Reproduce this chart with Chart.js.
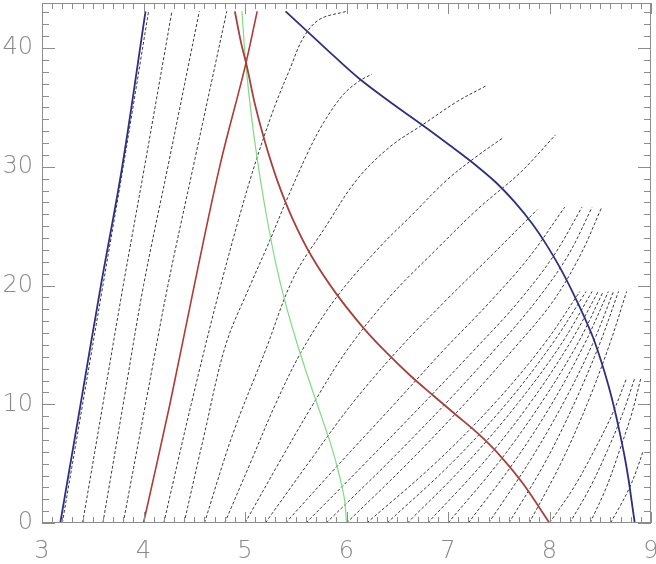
<!DOCTYPE html>
<html>
<head>
<meta charset="utf-8">
<script src="https://cdn.jsdelivr.net/npm/chart.js@4.4.1/dist/chart.umd.min.js"></script>
<style>
  html, body { margin: 0; padding: 0; background: #fff; }
  canvas { display: block; }
</style>
</head>
<body>
<canvas id="tracks" width="656" height="564"></canvas>
<script>
// axis ranges and tick labels
const xTicks = [3, 4, 5, 6, 7, 8, 9];
const yTicks = [0, 10, 20, 30, 40];
const yTop = 43.8;

// solid curves, [x, y]
const blueLeft = [[3.18, 0], [3.38, 10], [3.58, 20], [3.79, 30], [4.02, 43.1]];
const redLeft = [[4.0, 0], [4.26, 10], [4.5, 20], [4.75, 30], [5.0, 38.4], [5.12, 43.1]];
const redRight = [[4.9, 43.1], [4.96, 40.5], [5.02, 38.4], [5.1, 35.2], [5.2, 32.0], [5.32, 28.8],
  [5.47, 25.6], [5.66, 22.4], [5.9, 19.3], [6.17, 16.4], [6.4, 14.3], [6.63, 12.4], [6.86, 10.7],
  [7.08, 9.1], [7.3, 7.5], [7.51, 5.7], [7.74, 3.3], [8.0, 0]];
const greenLine = [[4.97, 43.1], [5.0, 39.5], [5.04, 36], [5.09, 32.5], [5.15, 29], [5.22, 25.5],
  [5.3, 22], [5.39, 18.8], [5.5, 15.5], [5.62, 12.3], [5.74, 9.3], [5.85, 6.5], [5.93, 4.0],
  [5.98, 2.0], [6.0, 0]];
const blueRight = [[5.4, 43.1], [5.64, 41.2], [5.88, 39.3], [6.13, 37.4], [6.44, 35.4], [6.75, 33.5],
  [7.02, 31.8], [7.25, 30.3], [7.47, 28.7], [7.66, 27.0], [7.83, 25.2], [7.98, 23.3], [8.11, 21.4],
  [8.23, 19.4], [8.34, 17.4], [8.43, 15.6], [8.51, 13.6], [8.58, 11.6], [8.64, 9.6], [8.69, 7.7],
  [8.74, 5.6], [8.78, 3.6], [8.81, 1.8], [8.84, 0]];

// dashed tracks, one per starting value on the x axis
const dashedTracks = [
  [[3.2, 0], [3.4, 10], [3.6, 20], [3.8, 30], [4.05, 43.1]],
  [[3.4, 0], [3.6, 10], [3.8, 20], [4.01, 30], [4.28, 43.1]],
  [[3.6, 0], [3.8, 10], [4.0, 20], [4.24, 30], [4.55, 43.1]],
  [[3.8, 0], [4.02, 10], [4.24, 20], [4.49, 30], [4.82, 43.1]],
  [[4.2, 0], [4.47, 10], [4.76, 20], [5.05, 28.9], [5.28, 34.8], [5.45, 38.4], [5.57, 40.8], [5.73, 42.4], [6.0, 43.1]],
  [[4.4, 0], [4.6, 7.5], [4.81, 15], [5.05, 20], [5.23, 23.5], [5.41, 27.2], [5.63, 31.4], [5.78, 33.8], [5.96, 36], [6.12, 37.2], [6.25, 37.8]],
  [[4.6, 0], [4.88, 7.5], [5.2, 14.5], [5.48, 20.7], [5.79, 24.9], [6.1, 28.9], [6.43, 31.7], [6.76, 33.6], [7.09, 35.5], [7.37, 36.8]],
  [[4.8, 0], [5.05, 5], [5.3, 10], [5.56, 14.5], [5.9, 19], [6.3, 23], [6.65, 26], [6.99, 28.9], [7.27, 30.8], [7.55, 32.5]],
  [[5.0, 0], [5.33, 5], [5.67, 10], [6.0, 14.5], [6.42, 19], [6.88, 23], [7.3, 26.5], [7.71, 29.5], [8.06, 32.7]],
  [[5.2, 0], [5.62, 5], [6.05, 10], [6.5, 14.5], [6.95, 18.5], [7.4, 22.3], [7.88, 26.4]],
  [[5.4, 0], [5.93, 5], [6.47, 10], [6.95, 14.5], [7.4, 18.5], [7.8, 22.4], [8.15, 26.6]],
  [[5.6, 0], [6.18, 5], [6.75, 10], [7.25, 14.5], [7.68, 18.5], [8.04, 22.5], [8.32, 26.6]],
  [[5.8, 0], [6.4, 5], [6.97, 10], [7.45, 14.5], [7.85, 18.5], [8.18, 22.5], [8.42, 26.6]],
  [[6.0, 0], [6.6, 5], [7.16, 10], [7.63, 14.5], [8.02, 18.5], [8.3, 22.5], [8.51, 26.5]],
  [[6.2, 0], [6.87, 5], [7.45, 10], [7.94, 15], [8.3, 19.5]],
  [[6.4, 0], [7.03, 5], [7.57, 10], [8.02, 15], [8.36, 19.5]],
  [[6.6, 0], [7.18, 5], [7.68, 10], [8.11, 15], [8.42, 19.5]],
  [[6.8, 0], [7.34, 5], [7.8, 10], [8.19, 15], [8.48, 19.5]],
  [[7.0, 0], [7.49, 5], [7.91, 10], [8.27, 15], [8.53, 19.5]],
  [[7.2, 0], [7.64, 5], [8.02, 10], [8.34, 15], [8.58, 19.5]],
  [[7.4, 0], [7.79, 5], [8.13, 10], [8.42, 15], [8.63, 19.5]],
  [[7.6, 0], [7.95, 5], [8.24, 10], [8.49, 15], [8.68, 19.5]],
  [[7.8, 0], [8.11, 5], [8.37, 10], [8.59, 15], [8.76, 19.5]],
  [[8.0, 0], [8.24, 3], [8.44, 6.1], [8.62, 9.2], [8.76, 12.2]],
  [[8.2, 0], [8.4, 3], [8.57, 6.1], [8.72, 9.2], [8.84, 12.2]],
  [[8.4, 0], [8.56, 3], [8.69, 6.1], [8.81, 9.2], [8.9, 12.2]],
  [[8.6, 0], [8.7, 1.5], [8.79, 3], [8.86, 4.5], [8.92, 6]]
];

const pts = arr => arr.map(p => ({ x: p[0], y: p[1] }));

const solid = (data, color, width) => ({
  data: pts(data), borderColor: color, borderWidth: width,
  showLine: true, pointRadius: 0, tension: 0.35, order: 0
});

const datasets = [
  solid(blueLeft, '#2e2f80', 1.8),
  solid(redLeft, '#b03a35', 1.6),
  solid(redRight, '#a8403a', 1.8),
  solid(greenLine, '#7fdc7f', 1.2),
  solid(blueRight, '#2e2f80', 1.8)
];
dashedTracks.forEach(t => datasets.push({
  data: pts(t), borderColor: '#3a3a3a', borderWidth: 1, borderDash: [3, 2],
  showLine: true, pointRadius: 0, tension: 0.35, order: 1
}));

// IDL-style box with minor ticks on all four sides
const frame = {
  id: 'frame',
  afterDatasetsDraw(chart) {
    const { ctx, chartArea: a, scales: { x, y } } = chart;
    ctx.save();
    ctx.strokeStyle = '#8c8c8c';
    ctx.lineWidth = 1;
    ctx.strokeRect(a.left + 0.5, a.top + 0.5, a.right - a.left - 1, a.bottom - a.top - 1);
    ctx.beginPath();
    for (let i = 30; i <= 90; i++) {
      const px = Math.round(x.getPixelForValue(i / 10)) + 0.5;
      const len = i % 10 === 0 ? 11 : 6;
      ctx.moveTo(px, a.bottom); ctx.lineTo(px, a.bottom - len);
      ctx.moveTo(px, a.top); ctx.lineTo(px, a.top + len);
    }
    for (let i = 0; i <= 43; i++) {
      const py = Math.round(y.getPixelForValue(i)) + 0.5;
      const len = i % 10 === 0 ? 13 : 7;
      ctx.moveTo(a.left, py); ctx.lineTo(a.left + len, py);
      ctx.moveTo(a.right, py); ctx.lineTo(a.right - len, py);
    }
    ctx.stroke();
    ctx.restore();
  }
};

const tickFont = { family: 'DejaVu Sans', size: 24, weight: 200 };

new Chart(document.getElementById('tracks'), {
  type: 'scatter',
  data: { datasets },
  options: {
    responsive: false,
    animation: false,
    events: [],
    layout: { padding: { top: 3, right: 5 } },
    plugins: { legend: { display: false }, tooltip: { enabled: false } },
    scales: {
      x: {
        type: 'linear', min: 3, max: 9,
        afterBuildTicks: s => { s.ticks = xTicks.map(v => ({ value: v })); },
        afterFit: s => { s.height = 41; s.paddingLeft = 0; s.paddingRight = 0; },
        grid: { display: false, drawTicks: false },
        border: { display: false },
        ticks: { color: '#8a8a8a', padding: 14, font: tickFont }
      },
      y: {
        type: 'linear', min: 0, max: yTop,
        afterBuildTicks: s => { s.ticks = yTicks.map(v => ({ value: v })); },
        afterFit: s => { s.width = 42; s.paddingTop = 0; s.paddingBottom = 0; },
        grid: { display: false, drawTicks: false },
        border: { display: false },
        ticks: { color: '#8a8a8a', padding: 9, font: tickFont }
      }
    }
  },
  plugins: [frame]
});
</script>
</body>
</html>
